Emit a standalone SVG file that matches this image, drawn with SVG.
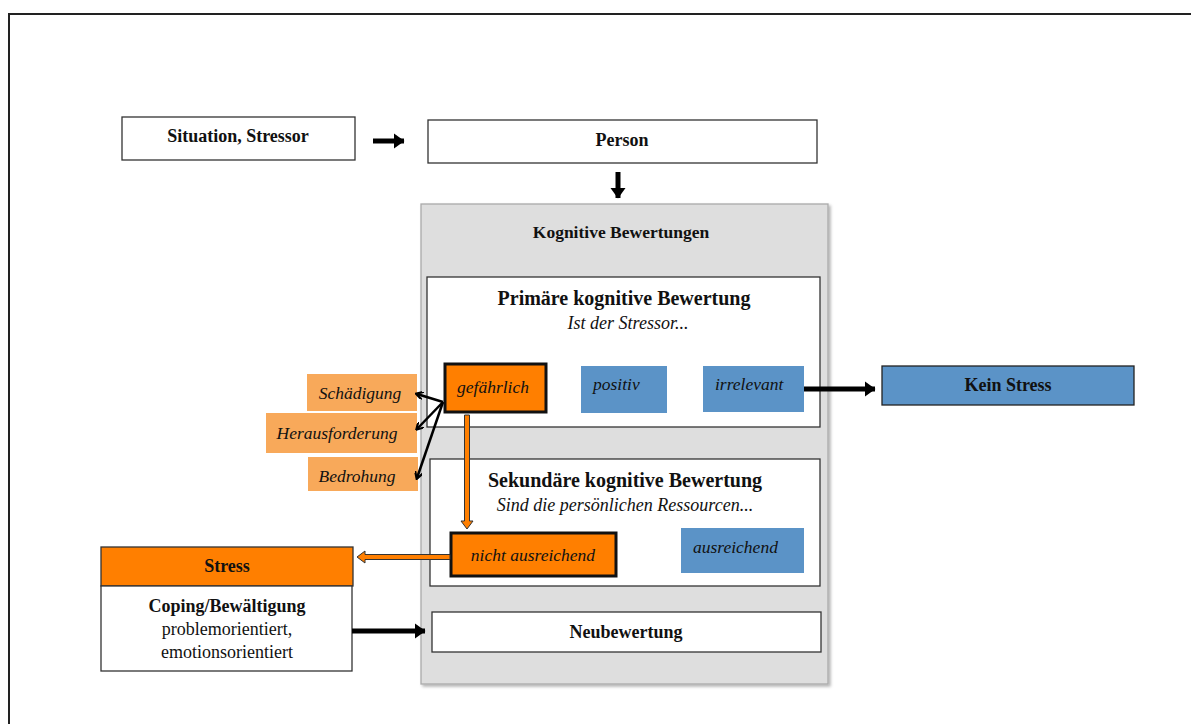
<svg xmlns="http://www.w3.org/2000/svg" width="1191" height="724" viewBox="0 0 1191 724">
<defs>
<style>
text{font-family:"Liberation Serif","DejaVu Serif",serif;fill:#111}
.b{font-weight:bold}
.i{font-style:italic}
.box{fill:#fff;stroke:#333;stroke-width:1.3}
.blue{fill:#5b93c7}
.lo{fill:#f8a95a}
.or{fill:#ff7f00;stroke:#111;stroke-width:3}
.blk{stroke:#000;stroke-width:5;fill:none}
.thin{stroke:#000;stroke-width:2.5;fill:none}
</style>
<marker id="ah" markerWidth="4" markerHeight="4" refX="2" refY="2" orient="auto" markerUnits="strokeWidth"><path d="M0,0.5 L2.1,2 L0,3.5 Z" fill="#000"/></marker>
<marker id="at" markerWidth="8" markerHeight="8" refX="6" refY="4" orient="auto" markerUnits="userSpaceOnUse"><path d="M0,0 L7,4 L0,8" fill="none" stroke="#000" stroke-width="2.2"/></marker>
<filter id="sh" x="-5%" y="-5%" width="110%" height="110%"><feDropShadow dx="2" dy="2" stdDeviation="1.5" flood-color="#000" flood-opacity="0.3"/></filter>
</defs>
<rect width="1191" height="724" fill="#fff"/>
<path d="M9,724 V14 H1191" fill="none" stroke="#222" stroke-width="2"/>

<g id="situation"><rect class="box" x="122" y="117" width="233" height="43"/><text class="b" x="238" y="142" font-size="18" text-anchor="middle">Situation, Stressor</text></g>
<g id="person"><rect class="box" x="428" y="120" width="389" height="43"/><text class="b" x="622" y="146" font-size="18" text-anchor="middle">Person</text></g>

<g id="kognitive"><rect x="421" y="204" width="407" height="480" fill="#dedede" stroke="#aaa" stroke-width="1.3" filter="url(#sh)"/><text class="b" x="621" y="238" font-size="17.5" text-anchor="middle">Kognitive Bewertungen</text></g>

<g id="primaer"><rect class="box" x="427" y="277" width="393" height="150"/><text class="b" x="624" y="305" font-size="20" text-anchor="middle">Primäre kognitive Bewertung</text><text class="i" x="628" y="329" font-size="18" text-anchor="middle">Ist der Stressor...</text></g>

<g id="gefaehrlich"><rect class="or" x="445" y="364" width="101" height="48"/><text class="i" x="493" y="393" font-size="17.5" text-anchor="middle">gefährlich</text></g>
<g id="positiv"><rect class="blue" x="581" y="366" width="86" height="47"/><text class="i" x="593" y="390" font-size="17.5">positiv</text></g>
<g id="irrelevant"><rect class="blue" x="703" y="366" width="101" height="46"/><text class="i" x="715" y="390" font-size="17.5">irrelevant</text></g>
<g id="keinstress"><rect x="882" y="366" width="252" height="39" fill="#5b93c7" stroke="#222" stroke-width="1.3"/><text class="b" x="1008" y="391" font-size="18" text-anchor="middle">Kein Stress</text></g>

<g id="schaedigung"><rect class="lo" x="307" y="374" width="110" height="37"/><text class="i" x="360" y="399" font-size="17.5" text-anchor="middle">Schädigung</text></g>
<g id="herausforderung"><rect class="lo" x="266" y="413" width="151" height="40"/><text class="i" x="337" y="439" font-size="17.5" text-anchor="middle">Herausforderung</text></g>
<g id="bedrohung"><rect class="lo" x="308" y="457" width="110" height="34"/><text class="i" x="357" y="482" font-size="17.5" text-anchor="middle">Bedrohung</text></g>

<g id="sekundaer"><rect class="box" x="430" y="459" width="390" height="127"/><text class="b" x="625" y="487" font-size="20" text-anchor="middle">Sekundäre kognitive Bewertung</text><text class="i" x="625" y="511" font-size="18" text-anchor="middle">Sind die persönlichen Ressourcen...</text></g>
<g id="nichtausreichend"><rect class="or" x="451" y="533" width="165" height="43"/><text class="i" x="533" y="561" font-size="17.5" text-anchor="middle">nicht ausreichend</text></g>
<g id="ausreichend"><rect class="blue" x="681" y="528" width="123" height="45"/><text class="i" x="693" y="553" font-size="17.5">ausreichend</text></g>

<g id="stress"><rect x="101" y="547" width="252" height="39" fill="#ff7f00" stroke="#333" stroke-width="1.3"/><text class="b" x="227" y="572" font-size="18" text-anchor="middle">Stress</text></g>
<g id="coping"><rect class="box" x="101" y="586" width="251" height="85"/><text class="b" x="227" y="612" font-size="18" text-anchor="middle">Coping/Bewältigung</text><text x="227" y="635" font-size="18" text-anchor="middle">problemorientiert,</text><text x="227" y="658" font-size="18" text-anchor="middle">emotionsorientiert</text></g>
<g id="neubewertung"><rect class="box" x="432" y="612" width="389" height="40"/><text class="b" x="626" y="638" font-size="18" text-anchor="middle">Neubewertung</text></g>

<g id="connectors">
<line class="blk" x1="373" y1="141" x2="404" y2="141" marker-end="url(#ah)"/>
<line class="blk" x1="618" y1="172" x2="618" y2="198" marker-end="url(#ah)"/>
<line class="blk" x1="804" y1="389" x2="875" y2="389" marker-end="url(#ah)"/>
<line class="blk" x1="352" y1="631" x2="425" y2="631" marker-end="url(#ah)"/>
<line class="thin" x1="443" y1="402" x2="417" y2="394" marker-end="url(#at)"/>
<line class="thin" x1="443" y1="402" x2="417" y2="429" marker-end="url(#at)"/>
<line class="thin" x1="443" y1="402" x2="417" y2="478" marker-end="url(#at)"/>
<path d="M464.5,415 V521 H461 L467,529 L473,521 H469.5 V415 Z" fill="#ff7f00" stroke="#333" stroke-width="1"/>
<path d="M450,554.5 H365 V551 L357,557 L365,563 V559.5 H450 Z" fill="#ff7f00" stroke="#333" stroke-width="1"/>
</g>
</svg>
